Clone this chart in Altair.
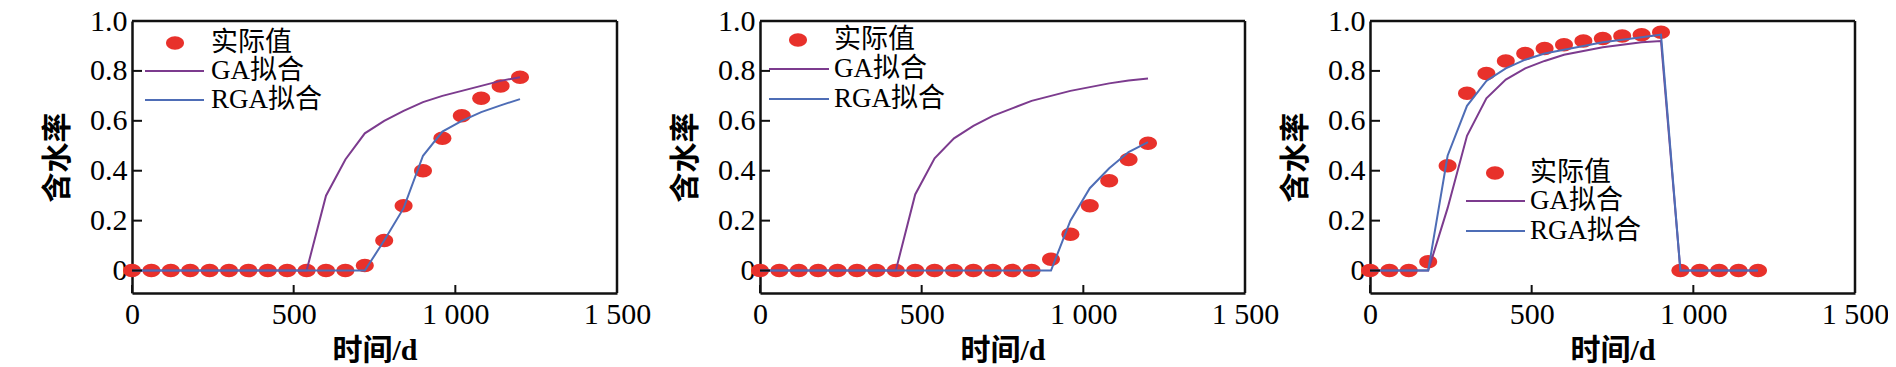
import altair as alt
import pandas as pd

# ---------------- data ----------------
days = [0, 60, 120, 180, 240, 300, 360, 420, 480, 540, 600, 660, 720, 780, 840,
        900, 960, 1020, 1080, 1140, 1200]

p1_actual = [0, 0, 0, 0, 0, 0, 0, 0, 0, 0, 0, 0, 0.02, 0.12, 0.26, 0.40, 0.53,
             0.62, 0.69, 0.74, 0.775]
p1_ga = [0, 0, 0, 0, 0, 0, 0, 0, 0, 0, 0.30, 0.445, 0.55, 0.60, 0.64, 0.675,
         0.70, 0.72, 0.74, 0.76, 0.775]
p1_rga = [0, 0, 0, 0, 0, 0, 0, 0, 0, 0, 0, 0, 0, 0.12, 0.25, 0.46, 0.557,
          0.60, 0.635, 0.662, 0.687]

p2_actual = [0, 0, 0, 0, 0, 0, 0, 0, 0, 0, 0, 0, 0, 0, 0, 0.045, 0.145, 0.26,
             0.36, 0.445, 0.51]
p2_ga = [0, 0, 0, 0, 0, 0, 0, 0, 0.305, 0.45, 0.53, 0.58, 0.62, 0.65, 0.68,
         0.70, 0.72, 0.735, 0.75, 0.762, 0.77]
p2_rga = [0, 0, 0, 0, 0, 0, 0, 0, 0, 0, 0, 0, 0, 0, 0, 0, 0.20, 0.33, 0.41,
          0.475, 0.515]

p3_actual = [0, 0, 0, 0.035, 0.42, 0.71, 0.79, 0.84, 0.87, 0.89, 0.905, 0.92,
             0.93, 0.94, 0.945, 0.955, 0, 0, 0, 0, 0]
p3_ga = [0, 0, 0, 0, 0.25, 0.54, 0.69, 0.765, 0.81, 0.84, 0.865, 0.88, 0.895,
         0.905, 0.915, 0.92, 0, 0, 0, 0, 0]
p3_rga = [0, 0, 0, 0, 0.46, 0.66, 0.76, 0.81, 0.845, 0.87, 0.885, 0.90, 0.915,
          0.925, 0.935, 0.945, 0, 0, 0, 0, 0]

x_ticks = [0, 500, 1000, 1500]
y_ticks = [0, 0.2, 0.4, 0.6, 0.8, 1.0]
legend_labels = ["实际值", "GA拟合", "RGA拟合"]
x_title = "时间/d"
y_title = "含水率"

# ---------------- style ----------------
W, H = 485, 272
FONT = "'Liberation Serif', 'Noto Sans CJK SC', serif"
RED = "#e8312b"
PURPLE = "#7c3b8e"
BLUE = "#4e6db6"
FRAME = "#111111"
ELLIPSE = "M -1 0 A 1 0.75 0 1 0 1 0 A 1 0.75 0 1 0 -1 0 Z"

xs = alt.Scale(domain=[0, 1500], nice=False, zero=False)
ys = alt.Scale(domain=[-0.09, 1.0], nice=False, zero=False)

xax = alt.Axis(values=x_ticks, title=x_title, ticks=False, tickSize=0,
               domain=True, domainColor=FRAME, domainWidth=2.5, domainOpacity=1,
               grid=False, labelExpr="replace(format(datum.value, ','), ',', ' ')",
               labelFont=FONT, labelFontSize=30, labelColor="black", labelPadding=6,
               labelFlush=False, labelOverlap=False,
               titleFont=FONT, titleFontSize=30, titleFontWeight="bold",
               titleColor="black", titlePadding=6)
yax = alt.Axis(values=y_ticks, title=y_title, ticks=False, tickSize=0,
               domain=True, domainColor=FRAME, domainWidth=2.5, domainOpacity=1,
               grid=False, labelExpr="datum.value == 0 ? '0' : format(datum.value, '.1f')",
               labelFont=FONT, labelFontSize=30, labelColor="black", labelPadding=5,
               labelFlush=False, labelOverlap=False, minExtent=45, maxExtent=45,
               titleFont=FONT, titleFontSize=30, titleFontWeight="bold",
               titleColor="black", titlePadding=15)

dummy = pd.DataFrame({"a": [0]})


def panel(actual, ga, rga, leg):
    df = pd.DataFrame({"t": days, "actual": actual, "ga": ga, "rga": rga})
    X = alt.X("t:Q", scale=xs, axis=xax)
    pts = alt.Chart(df).mark_point(filled=True, shape=ELLIPSE, size=324,
                                   color=RED, opacity=1).encode(
        x=X, y=alt.Y("actual:Q", scale=ys, axis=yax))
    gal = alt.Chart(df).mark_line(color=PURPLE, strokeWidth=2).encode(
        x=X, y=alt.Y("ga:Q", scale=ys, axis=yax))
    rgal = alt.Chart(df).mark_line(color=BLUE, strokeWidth=2).encode(
        x=X, y=alt.Y("rga:Q", scale=ys, axis=yax))
    xt = alt.Chart(pd.DataFrame({"xv": x_ticks})).mark_rule(
        color=FRAME, strokeWidth=2, opacity=1).encode(
        x=alt.X("xv:Q", scale=xs, axis=xax), y=alt.value(H), y2=alt.value(H - 8))
    yt = alt.Chart(pd.DataFrame({"yv": y_ticks})).mark_rule(
        color=FRAME, strokeWidth=2, opacity=1).encode(
        y=alt.Y("yv:Q", scale=ys, axis=yax), x=alt.value(0), x2=alt.value(10))
    # frame: top and right edges
    top = alt.Chart(dummy).mark_rule(color=FRAME, strokeWidth=2.5, opacity=1).encode(
        x=alt.value(0), x2=alt.value(W), y=alt.value(0))
    right = alt.Chart(dummy).mark_rule(color=FRAME, strokeWidth=2.5, opacity=1).encode(
        x=alt.value(W), y=alt.value(0), y2=alt.value(H))

    mx, my, tx, lx1, lx2, ly1, ly2 = leg
    lm = alt.Chart(dummy).mark_point(filled=True, shape=ELLIPSE, size=324,
                                     color=RED, opacity=1).encode(
        x=alt.value(mx), y=alt.value(my))
    l1 = alt.Chart(dummy).mark_rule(color=PURPLE, strokeWidth=2).encode(
        x=alt.value(lx1), x2=alt.value(lx2), y=alt.value(ly1))
    l2 = alt.Chart(dummy).mark_rule(color=BLUE, strokeWidth=2).encode(
        x=alt.value(lx1), x2=alt.value(lx2), y=alt.value(ly2))
    texts = []
    for lab, yy in zip(legend_labels, [my, ly1, ly2]):
        texts.append(alt.Chart(dummy).mark_text(
            font=FONT, fontSize=27, color="black", align="left",
            baseline="middle").encode(
            x=alt.value(tx), y=alt.value(yy), text=alt.value(lab)))
    return alt.layer(pts, gal, rgal, xt, yt, top, right, lm, l1, l2, *texts).properties(
        width=W, height=H)


def spacer(w):
    return alt.Chart(dummy).mark_point(opacity=0).encode(
        x=alt.value(0), y=alt.value(0)).properties(width=w, height=H)


c1 = panel(p1_actual, p1_ga, p1_rga, (43, 22, 79, 13, 72, 50, 79))
c2 = panel(p2_actual, p2_ga, p2_rga, (38, 19, 74, 9, 69, 48, 78))
c3 = panel(p3_actual, p3_ga, p3_rga, (125, 152, 160, 96, 155, 180, 210))

chart = alt.hconcat(c1, spacer(143), c2, spacer(125), c3, spacing=0,
                    bounds="flush").properties(
    autosize=alt.AutoSizeParams(type="none"),
    padding={"left": 124, "top": 13, "right": 1756, "bottom": 346},
    background="white",
).configure_view(strokeOpacity=0)

chart.save("out.html", embed_options={"renderer": "svg", "actions": False})
